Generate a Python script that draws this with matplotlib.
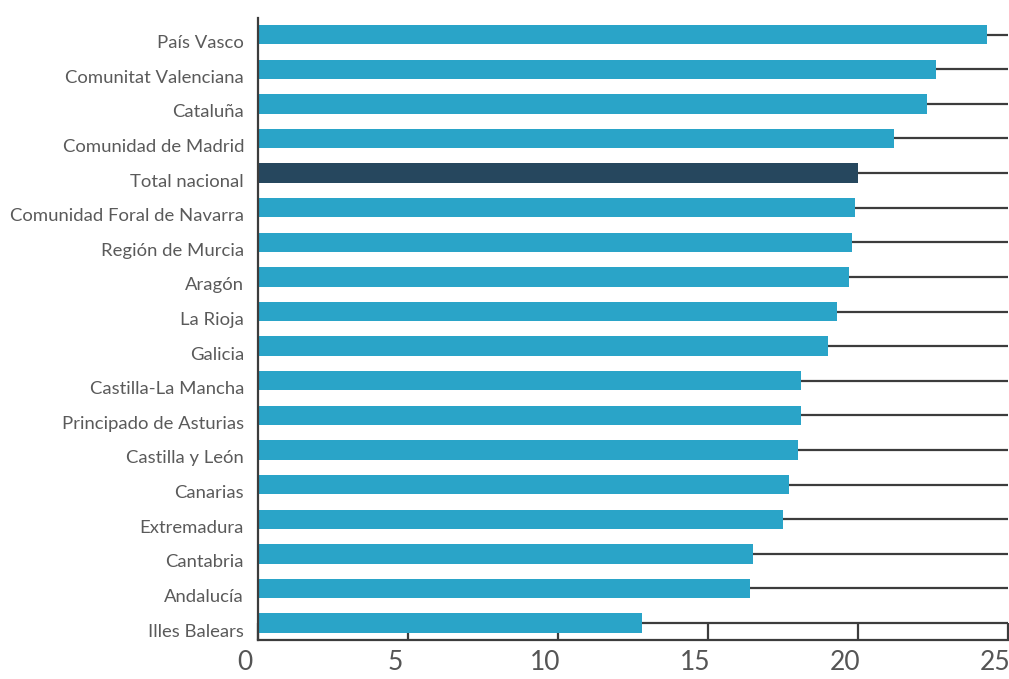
import matplotlib
matplotlib.use("Agg")
import matplotlib.pyplot as plt
import matplotlib.transforms as mtransforms

regions = [
    "País Vasco", "Comunitat Valenciana", "Cataluña", "Comunidad de Madrid",
    "Total nacional", "Comunidad Foral de Navarra", "Región de Murcia", "Aragón",
    "La Rioja", "Galicia", "Castilla-La Mancha", "Principado de Asturias",
    "Castilla y León", "Canarias", "Extremadura", "Cantabria", "Andalucía",
    "Illes Balears",
]
values = [24.3, 22.6, 22.3, 21.2, 20.0, 19.9, 19.8, 19.7, 19.3, 19.0,
          18.1, 18.1, 18.0, 17.7, 17.5, 16.5, 16.4, 12.8]
x_ticks = [0, 5, 10, 15, 20, 25]

bar_color = "#2aa4c8"
total_color = "#26475e"
line_color = "#3c3c3c"
label_color = "#5a5a5a"
tick_color = "#555555"

plt.rcParams["font.family"] = ["Lato", "DejaVu Sans"]

fig = plt.figure(figsize=(10.09, 6.79), dpi=100)
ax = fig.add_axes([258 / 1009, 1 - 640 / 679, 750 / 1009, 622 / 679])

n = len(regions)
ypos = list(range(n))[::-1]
colors = [total_color if r == "Total nacional" else bar_color for r in regions]

# reference lines across each row, behind the bars
for y in ypos:
    ax.plot([0, 25], [y, y], color=line_color, lw=1.6, zorder=1,
            solid_capstyle="butt")

ax.barh(ypos, values, height=0.56, color=colors, zorder=2)

ax.set_xlim(0, 25)
ax.set_ylim(-0.49, n - 0.52)

ax.set_yticks(ypos)
ax.set_yticklabels(regions, fontsize=13.3, color=label_color)
ax.tick_params(axis="y", length=0, pad=10)
yshift = mtransforms.ScaledTranslation(0, -7 / 100, fig.dpi_scale_trans)
for lbl in ax.get_yticklabels():
    lbl.set_transform(lbl.get_transform() + yshift)

ax.set_xticks(x_ticks)
ax.set_xticklabels([str(t) for t in x_ticks], fontsize=19, color=tick_color,
                   fontweight="normal")
ax.tick_params(axis="x", direction="in", length=12.5, width=1.6,
               color=line_color, pad=7)
shift = mtransforms.ScaledTranslation(-13 / 100, 0, fig.dpi_scale_trans)
for lbl in ax.get_xticklabels():
    lbl.set_transform(lbl.get_transform() + shift)

for side in ("top", "right"):
    ax.spines[side].set_visible(False)
for side in ("left", "bottom"):
    ax.spines[side].set_color(line_color)
    ax.spines[side].set_linewidth(1.6)

fig.savefig("out.png", dpi=100)
